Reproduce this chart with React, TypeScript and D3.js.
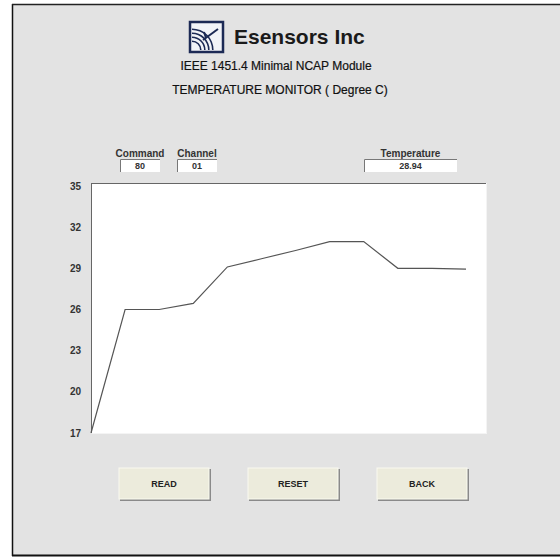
import React, { useEffect, useRef } from "react"
import * as d3 from "d3"

// readings, one every sample
const samples = [0, 1, 2, 3, 4, 5, 6, 7, 8, 9, 10, 11]
const temps = [17, 26, 26, 26.45, 29.1, 29.7, 30.3, 30.95, 30.95, 29.0, 29.0, 28.94]
const yTicks = [17, 20, 23, 26, 29, 32, 35]

const fields = ["Command", "Channel", "Temperature"]
const fieldValues = ["80", "01", "28.94"]
const buttons = ["READ", "RESET", "BACK"]

const W = 560
const H = 557
const font = "'Liberation Sans', Arial, sans-serif"

function App() {
  const ref = useRef<SVGSVGElement>(null)

  useEffect(() => {
    const svg = d3.select(ref.current)
    svg.selectAll("*").remove()

    // panel
    svg.append("rect").attr("x", 0).attr("y", 0).attr("width", W).attr("height", H).attr("fill", "#ffffff")
    svg.append("rect").attr("x", 12).attr("y", 4).attr("width", W - 12).attr("height", 551).attr("fill", "#e3e3e3")
    svg.append("line").attr("x1", 12.5).attr("x2", 12.5).attr("y1", 4).attr("y2", 556).attr("stroke", "#111").attr("stroke-width", 1.5)
    svg.append("line").attr("x1", 12).attr("x2", W).attr("y1", 4.5).attr("y2", 4.5).attr("stroke", "#222").attr("stroke-width", 1.5)
    svg.append("line").attr("x1", 12).attr("x2", W).attr("y1", 555.5).attr("y2", 555.5).attr("stroke", "#111").attr("stroke-width", 2)

    // logo
    const logo = svg.append("g").attr("transform", "translate(189,21)")
    logo.append("rect").attr("x", 1).attr("y", 1).attr("width", 33).attr("height", 30)
      .attr("fill", "#f2f4f8").attr("stroke", "#1c2a55").attr("stroke-width", 2.5)
    ;[8, 12, 16, 20].forEach(r => {
      logo.append("path")
        .attr("d", d3.arc()({ innerRadius: r, outerRadius: r + 1.6, startAngle: 0, endAngle: Math.PI / 2 }) as string)
        .attr("transform", "translate(3,29)")
        .attr("fill", "#1c2a55")
    })
    logo.append("line").attr("x1", 14).attr("y1", 19).attr("x2", 29).attr("y2", 8).attr("stroke", "#1c2a55").attr("stroke-width", 2)
    logo.append("line").attr("x1", 17).attr("y1", 17).attr("x2", 15).attr("y2", 11).attr("stroke", "#1c2a55").attr("stroke-width", 2)

    svg.append("text").attr("x", 234).attr("y", 44).text("Esensors Inc")
      .attr("font-family", font).attr("font-size", 21).attr("font-weight", "bold").attr("fill", "#1a1a1a")
    svg.append("text").attr("x", 276).attr("y", 70).attr("text-anchor", "middle").text("IEEE 1451.4  Minimal NCAP Module")
      .attr("font-family", font).attr("font-size", 12).attr("fill", "#111").attr("stroke", "#111").attr("stroke-width", 0.2)
    svg.append("text").attr("x", 280).attr("y", 94).attr("text-anchor", "middle").text("TEMPERATURE MONITOR ( Degree C)")
      .attr("font-family", font).attr("font-size", 12).attr("fill", "#111").attr("stroke", "#111").attr("stroke-width", 0.2)

    // fields
    const fieldX = [120, 177, 364]
    const fieldW = [40, 40, 93]
    fields.forEach((f, i) => {
      svg.append("text").attr("x", fieldX[i] + fieldW[i] / 2).attr("y", 157).attr("text-anchor", "middle").text(f)
        .attr("font-family", font).attr("font-size", 10).attr("font-weight", "bold").attr("fill", "#333")
      svg.append("rect").attr("x", fieldX[i]).attr("y", 159).attr("width", fieldW[i]).attr("height", 13).attr("fill", "#fff")
      svg.append("path").attr("d", `M${fieldX[i] + 0.5},${172}V${159.5}H${fieldX[i] + fieldW[i]}`)
        .attr("fill", "none").attr("stroke", "#777")
      svg.append("text").attr("x", fieldX[i] + fieldW[i] / 2).attr("y", 169).attr("text-anchor", "middle").text(fieldValues[i])
        .attr("font-family", font).attr("font-size", 9).attr("font-weight", "bold").attr("fill", "#333")
    })

    // chart
    const x = d3.scaleLinear().domain([0, 11]).range([91, 466])
    const y = d3.scaleLinear().domain([17, 35]).range([433, 186])

    svg.append("rect").attr("x", 91).attr("y", 183).attr("width", 395).attr("height", 250).attr("fill", "#fff")
    svg.append("line").attr("x1", 91).attr("x2", 486).attr("y1", 183.5).attr("y2", 183.5).attr("stroke", "#666")
    svg.append("line").attr("x1", 91.5).attr("x2", 91.5).attr("y1", 183).attr("y2", 433).attr("stroke", "#666")
    svg.append("line").attr("x1", 486.5).attr("x2", 486.5).attr("y1", 183).attr("y2", 434).attr("stroke", "#f4f4f4")
    svg.append("line").attr("x1", 91).attr("x2", 487).attr("y1", 433.5).attr("y2", 433.5).attr("stroke", "#f4f4f4")

    svg.append("g").selectAll("text").data(yTicks).enter().append("text")
      .attr("x", 81).attr("y", d => y(d) + 3.5).attr("text-anchor", "end").text(d => d)
      .attr("font-family", font).attr("font-size", 10).attr("font-weight", "bold").attr("fill", "#333")

    const line = d3.line<number>().x((d, i) => x(samples[i])).y(d => y(d))
    svg.append("path").datum(temps).attr("d", line).attr("fill", "none").attr("stroke", "#555").attr("stroke-width", 1.2)

    // buttons
    const btnX = [119, 248, 377]
    buttons.forEach((b, i) => {
      svg.append("rect").attr("x", btnX[i] + 1).attr("y", 469).attr("width", 91).attr("height", 32).attr("fill", "#8a8a8a")
      svg.append("rect").attr("x", btnX[i]).attr("y", 468).attr("width", 90).attr("height", 31)
        .attr("fill", "#ecebdc").attr("stroke", "#fafaf0").attr("stroke-width", 1)
      svg.append("text").attr("x", btnX[i] + 45).attr("y", 487).attr("text-anchor", "middle").text(b)
        .attr("font-family", font).attr("font-size", 9).attr("font-weight", "bold").attr("fill", "#222")
    })
  }, [])

  return (
    <div>
      <svg ref={ref} width={W} height={H} style={{ position: "absolute", left: 0, top: 0, display: "block" }} />
    </div>
  )
}

export default App
